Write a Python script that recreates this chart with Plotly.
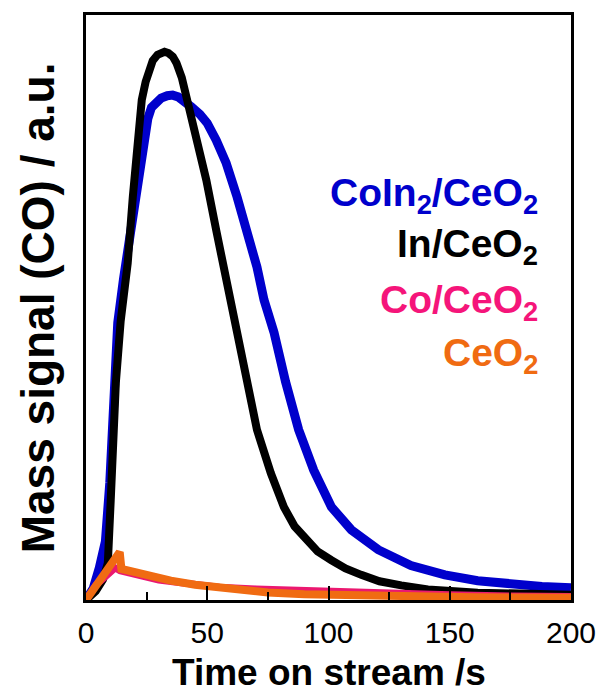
import plotly.graph_objects as go

# CO mass-signal transients (arbitrary units) versus time on stream (s)
t_coin2 = [0, 3, 5.5, 8, 9.8, 11.5, 13.1, 15.5, 18, 20.3, 22.1, 23.8, 25.5, 27, 29, 31, 33.5,
           35.7, 38, 40, 43.4, 47, 50, 53.7, 57.8, 62.3, 66.4, 70.5, 73.4, 77.5, 82.3,
           87.7, 93.9, 101.2, 109.4, 120.5, 134, 148, 161.5, 175, 188, 200]
y_coin2 = [0, 2, 5.5, 10, 20, 35, 47.4, 55, 62, 69, 74.7, 79.5, 82.3, 84.2, 85.2, 85.8, 86.2,
           86.3, 86.0, 85.5, 84.3, 83.0, 81.5, 78.6, 74.7, 68.9, 63.2, 56.9, 51.3, 45.8, 37.3,
           29.1, 22.2, 15.9, 12, 8.6, 5.9, 4.3, 3.3, 2.7, 2.3, 2.1]

t_in = [0, 4, 7, 9, 10.2, 12.3, 14.3, 17.2, 19.3, 21.3, 23, 24.6, 26, 27.5, 29.5, 31, 32.4,
        34, 35.8, 37.3, 39.5, 41.4, 44.7, 49.6, 53.7, 57.8, 61.1, 66.4, 70.5, 76.2, 81.6,
        86, 90.6, 95.5, 101.2, 107, 113.5, 121, 130, 141, 161.5, 180, 200]
y_in = [0, 1.5, 3.5, 6.3, 17.1, 37.1, 47.7, 57.6, 68.9, 80.3, 85.5, 88.6, 90.6, 92.2, 93.2,
        93.6, 93.7, 93.5, 92.9, 91.8, 89.3, 86, 80.3, 71.8, 63.2, 54.7, 47.4, 37.6, 29.1,
        21.7, 15.9, 12.6, 10.3, 8.3, 6.8, 5.4, 4.3, 3.2, 2.5, 1.8, 1.25, 1.0, 0.9]

t_co = [0, 4, 8, 12, 14, 20, 30, 40, 55, 70, 90, 110, 130, 150, 175, 200]
y_co = [0, 2.5, 4, 5.5, 5, 4.3, 3.4, 2.9, 2.2, 1.9, 1.6, 1.3, 1.1, 0.9, 0.7, 0.6]

t_ceo2 = [0, 5, 10, 13.9, 14.6, 20, 27, 35, 45, 60, 75, 90, 110, 130, 160, 200]
y_ceo2 = [0, 3, 5.8, 8.2, 5.3, 4.8, 3.9, 3.3, 2.6, 1.8, 1.3, 1.0, 0.8, 0.6, 0.45, 0.4]

x_ticks = [0, 50, 100, 150, 200]
x_tick_labels = ["0", "50", "100", "150", "200"]

C_BLUE = "#0000CC"
C_BLACK = "#000000"
C_PINK = "#EB1870"
C_ORANGE = "#F06B12"

fig = go.Figure()
fig.add_trace(go.Scatter(x=t_coin2, y=y_coin2, mode="lines",
                         line=dict(color=C_BLUE, width=9)))
fig.add_trace(go.Scatter(x=t_in, y=y_in, mode="lines",
                         line=dict(color=C_BLACK, width=8)))
fig.add_trace(go.Scatter(x=t_co, y=y_co, mode="lines",
                         line=dict(color=C_PINK, width=7)))
fig.add_trace(go.Scatter(x=t_ceo2, y=y_ceo2, mode="lines",
                         line=dict(color=C_ORANGE, width=8)))

FONT = "Liberation Sans, Arial, sans-serif"

# sample labels placed beside the curves
labels = [
    ("CoIn<sub>2</sub>/CeO<sub>2</sub>", C_BLUE, 195),
    ("In/CeO<sub>2</sub>", C_BLACK, 246),
    ("Co/CeO<sub>2</sub>", "#F5157A", 302),
    ("CeO<sub>2</sub>", C_ORANGE, 356),
]
annotations = []
for text, color, py in labels:
    annotations.append(dict(
        text=f"<b>{text}</b>", xref="paper", yref="paper",
        x=(543 - 86) / 488, y=(600 - py) / 585, xanchor="right", yanchor="middle",
        showarrow=False, font=dict(family=FONT, size=39, color=color)))

annotations.append(dict(
    text="<b>Time on stream /s</b>", xref="paper", yref="paper",
    x=0.5, y=(600 - 672) / 585, xanchor="center", yanchor="middle",
    showarrow=False, font=dict(family=FONT, size=37, color="black")))
annotations.append(dict(
    text="<b>Mass signal (CO) / a.u.</b>", xref="paper", yref="paper",
    x=(38 - 86) / 488, y=(600 - 308) / 585, xanchor="center", yanchor="middle",
    textangle=-90, showarrow=False, font=dict(family=FONT, size=46, color="black")))

fig.update_layout(
    width=608, height=693,
    margin=dict(l=86, r=34, t=15, b=93),
    paper_bgcolor="white", plot_bgcolor="white",
    showlegend=False,
    annotations=annotations,
    xaxis=dict(range=[0, 200], tickvals=x_ticks, ticktext=x_tick_labels,
               ticks="inside", ticklen=14, tickwidth=2, tickcolor="black",
               minor=dict(dtick=25, ticks="inside", ticklen=8, tickwidth=2, tickcolor="black"),
               showline=True, linewidth=2.5, linecolor="black", mirror=True,
               showgrid=False, zeroline=False, ticklabelstandoff=4,
               tickfont=dict(family=FONT, size=30, color="black")),
    yaxis=dict(range=[0, 100], showticklabels=False, ticks="",
               showline=True, linewidth=2.5, linecolor="black", mirror=True,
               showgrid=False, zeroline=False),
)

fig.write_html("out.html")
